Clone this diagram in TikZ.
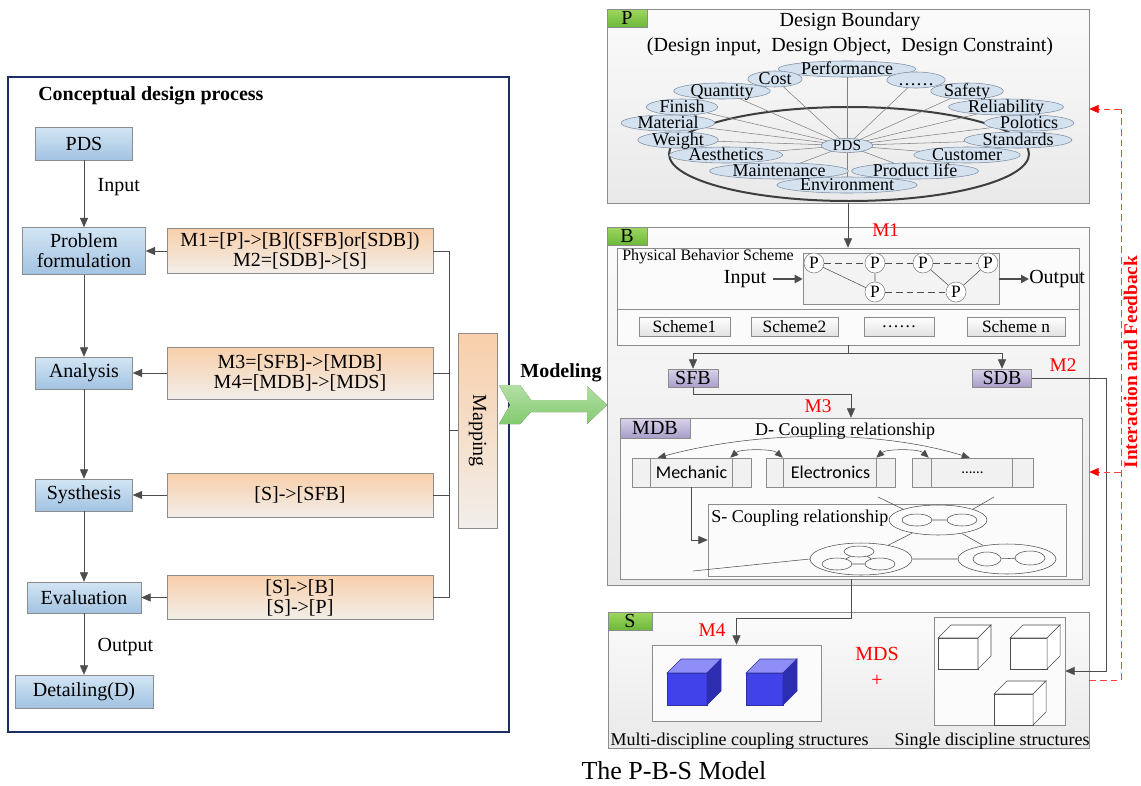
\documentclass[tikz,border=0pt]{standalone}
\usepackage{fontspec}
\setmainfont{Liberation Serif}
\newfontfamily\calfont{Carlito}
\usetikzlibrary{arrows.meta,positioning,calc,shapes.geometric}

\newcommand{\fsz}[1]{\fontsize{#1}{#1}\selectfont}

\definecolor{navy}{HTML}{1B2F66}
\definecolor{edgegray}{HTML}{8C8C8C}
\definecolor{linegray}{HTML}{4D4D4D}
\definecolor{blueTop}{HTML}{D3E5F4}
\definecolor{blueBot}{HTML}{A2C3E2}
\definecolor{peachTop}{HTML}{F8CFAA}
\definecolor{peachBot}{HTML}{F2EEEA}
\definecolor{greenTop}{HTML}{9ED75F}
\definecolor{greenBot}{HTML}{6DB83A}
\definecolor{lilacTop}{HTML}{DAD3EA}
\definecolor{lilacBot}{HTML}{A99EC9}
\definecolor{panelTop}{HTML}{FBFBFB}
\definecolor{panelBot}{HTML}{E9E9E9}
\definecolor{itemblue}{HTML}{D4E2EF}
\definecolor{itemedge}{HTML}{7D8DA3}
\definecolor{cubeFront}{HTML}{4242EA}
\definecolor{cubeTop}{HTML}{8E8EF6}
\definecolor{cubeSide}{HTML}{2D2DB2}
\definecolor{arrowTop}{HTML}{C4F5B4}
\definecolor{arrowBot}{HTML}{8FDE7A}

\pgfdeclarelayer{back}
\pgfdeclarelayer{mid}
\pgfsetlayers{back,mid,main}

\tikzset{
  procbox/.style={draw=edgegray, top color=blueTop, bottom color=blueBot, align=center, inner sep=0pt, font=\fsz{15}},
  mapbox/.style={draw=edgegray, top color=peachTop, bottom color=peachBot, align=center, inner sep=0pt, font=\fsz{15}},
  panel/.style={draw=edgegray, top color=panelTop, bottom color=panelBot, inner sep=0pt},
  tagbox/.style={draw=edgegray, top color=greenTop, bottom color=greenBot, anchor=north west, inner sep=0pt, minimum width=30pt, minimum height=13.5pt, font=\fsz{15}},
  lilac/.style={draw=edgegray, top color=lilacTop, bottom color=lilacBot, inner sep=0pt, font=\fsz{15}},
  item/.style={ellipse, draw=itemedge, fill=itemblue, inner xsep=2pt, inner ysep=0pt, text height=8.5pt, text depth=0pt, font=\fsz{13.5}},
  pnode/.style={circle, draw=gray, fill=white, inner sep=0pt, minimum size=15pt, font=\fsz{13}},
  schemebox/.style={draw=edgegray, top color=white, bottom color=panelTop!90!black, inner sep=0pt, minimum height=14.25pt, font=\fsz{13}},
  module/.style={draw=edgegray, fill=panelTop!96!black, inner sep=0pt, minimum height=21.75pt, font=\calfont\fsz{13.5}},
  ring/.style={ellipse, draw=linegray, inner sep=0pt},
  lbl/.style={inner sep=0pt, font=\fsz{15}},
  smalllbl/.style={inner sep=0pt, font=\fsz{13.5}},
  mlbl/.style={inner sep=0pt, text=red, font=\fsz{14.5}},
  arr/.style={draw=linegray, -{Triangle[length=7pt,width=6pt]}},
  dblarr/.style={draw=linegray, {Triangle[length=6pt,width=5pt]}-{Triangle[length=6pt,width=5pt]}},
  thickarr/.style={draw=linegray, line width=1.6pt, -{Triangle[length=6pt,width=6pt]}},
  feedback/.style={draw=red!75, dash pattern=on 5pt off 3pt},
  redarr/.style={feedback, -{Triangle[length=7pt,width=6pt,color=red]}}
}

% cube: front top-left x, y, width, height, depth, front / top / side options
\newcommand{\drawcube}[8]{%
  \filldraw[#6] (#1,#2) rectangle ++(#3,#4);
  \filldraw[#7] (#1,#2) -- ++(#5,-#5) -- ++(#3,0) -- ++(-#5,#5) -- cycle;
  \filldraw[#8] (#1,#2) ++(#3,0) -- ++(#5,-#5) -- ++(0,#4) -- ++(-#5,#5) -- cycle;
}

\begin{document}
\begin{tikzpicture}[x=0.75pt, y=-0.75pt, line width=0.6pt]
\useasboundingbox (0,0) rectangle (1141,785);
\begin{pgfonlayer}{back}
  \fill[white] (0,0) rectangle (1141,785);
\end{pgfonlayer}

% ---------- conceptual design process ----------
\draw[navy, line width=2.2pt] (8,77) rectangle (509,732);
\node[anchor=west, inner sep=0pt, font=\bfseries\fsz{15}] (title) at (38,96) {Conceptual design process};

\node[procbox, minimum width=72.75pt, minimum height=24.75pt] (pdsbox) at (84,143.5) {PDS};
\node[procbox, minimum width=92.25pt, minimum height=35.25pt] (prob) at (84,251) {Problem\\formulation};
\node[procbox, minimum width=72.75pt, minimum height=24pt] (anal) at (84,373) {Analysis};
\node[procbox, minimum width=72.75pt, minimum height=24pt] (syst) at (84,495) {Systhesis};
\node[procbox, minimum width=85.5pt, minimum height=23.25pt] (eval) at (84,597.5) {Evaluation};
\node[procbox, minimum width=103.5pt, minimum height=24.75pt] (detl) at (84,691.5) {Detailing(D)};

\node[mapbox, minimum width=199.5pt, minimum height=33.75pt] (m12) at (300,251) {M1=[P]->[B]([SFB]or[SDB])\\{}M2=[SDB]->[S]};
\node[mapbox, minimum width=199.5pt, minimum height=39pt] (m34) at (300,373) {M3=[SFB]->[MDB]\\{}M4=[MDB]->[MDS]};
\node[mapbox, minimum width=199.5pt, minimum height=33pt] (msfb) at (300,495) {[S]->[SFB]};
\node[mapbox, minimum width=199.5pt, minimum height=33pt] (msbp) at (300,597.5) {[S]->[B]\\{}[S]->[P]};
\node[mapbox, minimum width=29.25pt, minimum height=146.25pt] (mapping) at (477.5,430.5) {\rotatebox{-90}{Mapping}};

\draw[arr] (pdsbox) -- node[lbl, right=10pt, pos=0.4] {Input} (prob);
\draw[arr] (prob) -- (anal);
\draw[arr] (anal) -- (syst);
\draw[arr] (syst) -- (eval);
\draw[arr] (eval) -- node[lbl, right=10pt, pos=0.55] {Output} (detl);

\draw[arr] (m12) -- (prob);
\draw[arr] (m34) -- (anal);
\draw[arr] (msfb) -- (syst);
\draw[arr] (msbp) -- (eval);

\coordinate (busT) at (449,251);
\coordinate (busB) at (449,597.5);
\draw[linegray] (m12.east) -- (busT) -- (busB) -- (msbp.east);
\draw[linegray] (m34.east) -- (m34.east -| busT);
\draw[linegray] (msfb.east) -- (msfb.east -| busT);
\draw[linegray] (mapping.west) -- (mapping.west -| busT);

% modeling arrow
\fill[top color=arrowTop, bottom color=arrowBot, fill opacity=0.9]
  (499,385) -- (520,385) -- (531,400) -- (587,400) -- (587,386) -- (607,405)
  -- (587,424) -- (587,412) -- (531,412) -- (520,424) -- (499,424) -- (510,405) -- cycle;
\node[inner sep=0pt, font=\bfseries\fsz{15}] (modeling) at (561,373) {Modeling};

% ---------- P ----------
\begin{pgfonlayer}{back}
  \node[panel, minimum width=361.5pt, minimum height=145.5pt] (Ppanel) at (848,106) {};
  \node[panel, minimum width=361.5pt, minimum height=268.5pt] (Bpanel) at (848,406) {};
  \node[panel, minimum width=360.75pt, minimum height=102pt] (Spanel) at (848.5,680) {};
\end{pgfonlayer}
\node[tagbox] (ptag) at (Ppanel.north west) {P};
\node[lbl] (pttl) at (850,22) {Design Boundary};
\node[lbl] (psub) at (850,47) {(Design input,\ \ Design Object,\ \ Design Constraint)};

\node[item] (perf) at (847,69) {Performance};
\node[item] (cost) at (775,79) {Cost};
\node[item] (dots) at (916,80) {……};
\node[item] (quan) at (722,91) {Quantity};
\node[item] (safe) at (967,91) {Safety};
\node[item] (fini) at (682,107) {Finish};
\node[item] (reli) at (1006,107) {Reliability};
\node[item] (matl) at (668,123) {Material};
\node[item] (polo) at (1029,123) {Polotics};
\node[item] (wegt) at (678,140) {Weight};
\node[item] (stnd) at (1018,140) {Standards};
\node[item] (aest) at (726,155) {Aesthetics};
\node[item] (cust) at (967,155) {Customer};
\node[item] (mtce) at (779,171) {Maintenance};
\node[item] (plif) at (915,171) {Product life};
\node[item] (envi) at (847,185) {Environment};
\node[item, font=\fsz{11.5}, text height=7.5pt, inner xsep=3pt] (pds) at (847,145.5) {PDS};

\begin{pgfonlayer}{mid}
  \draw[linegray!80!black, line width=1.5pt] (849,154) ellipse [x radius=180, y radius=47];
  \foreach \it in {perf,cost,dots,quan,safe,fini,reli,matl,polo,wegt,stnd,aest,cust,mtce,plif,envi}
    \draw[gray, line width=0.4pt] (pds.center) -- (\it.center);
\end{pgfonlayer}

% ---------- B ----------
\node[tagbox] (btag) at (Bpanel.north west) {B};
\node[draw=edgegray, fill=panelTop, inner sep=0pt, minimum width=346.5pt, minimum height=72.75pt] (pbs) at (848,296.5) {};
\draw[edgegray] (pbs.west |- 0,309) -- (pbs.east |- 0,309);
\node[anchor=west, inner sep=0pt, font=\fsz{12}] (pbstitle) at (622,257) {Physical Behavior Scheme};
\node[draw=edgegray, fill=panelTop!97!black, inner sep=0pt, minimum width=147pt, minimum height=38.25pt] (pnet) at (901,278.5) {};
\node[lbl] (inp) at (745,279) {Input};
\node[lbl, anchor=west] (outp) at (1029,279) {Output};
\draw[thickarr] (773,279) -- (pnet.west |- inp);
\draw[thickarr] (pnet.east |- outp) -- (outp.west);

\node[pnode] (p1) at (814,263) {P};
\node[pnode] (p2) at (875,263) {P};
\node[pnode] (p3) at (923,263) {P};
\node[pnode] (p4) at (988,263) {P};
\node[pnode] (p5) at (875,292) {P};
\node[pnode] (p6) at (956,292) {P};
\draw[linegray, dash pattern=on 5pt off 3pt] (p1) -- (p2) (p2) -- (p3) (p3) -- (p4) (p5) -- (p6);
\draw[linegray, line width=0.4pt] (p2) -- (p5) (p1) -- (p5) (p3) -- (p6) (p6) -- (p4);

\node[schemebox, minimum width=68.25pt] (s1) at (684.5,326.5) {Scheme1};
\node[schemebox, minimum width=65.25pt] (s2) at (794.5,326.5) {Scheme2};
\node[schemebox, minimum width=52.5pt] (s3) at (899,326.5) {……};
\node[schemebox, minimum width=73.5pt] (sn) at (1016,326.5) {Scheme n};

\draw[arr] (Ppanel.south) -- node[mlbl, right=18pt, pos=0.6] {M1} (pbs.north);

\node[lilac, minimum width=37.5pt, minimum height=13.5pt] (sfb) at (693,378) {SFB};
\node[lilac, minimum width=44.25pt, minimum height=13.5pt] (sdb) at (1002,378) {SDB};
\draw[linegray] (pbs.south) -- ++(0,8) coordinate (split);
\draw[arr] (split) -| (sfb.north);
\draw[arr] (split) -| (sdb.north);
\node[mlbl] (m2) at (1063,365) {M2};

\node[draw=edgegray, fill=panelTop, inner sep=0pt, minimum width=346.5pt, minimum height=120.75pt] (mdb) at (851,498.5) {};
\node[lilac, anchor=north west, minimum width=52.5pt, minimum height=15pt] (mdbtag) at (mdb.north west) {MDB};
\draw[arr] (sfb.south) -- ++(0,7) -| (mdb.north);
\node[mlbl] (m3) at (818,406) {M3};
\node[smalllbl] (dcoup) at (845,431) {D- Coupling relationship};

\node[module, minimum width=89.25pt] (mech) at (691.5,472.5) {Mechanic};
\node[module, minimum width=96.75pt] (elec) at (830.5,472.5) {Electronics};
\node[module, minimum width=90.75pt] (more) at (972.5,472.5) {\fsz{11}......};
\foreach \m/\l/\r in {mech/19/19, elec/18/19, more/20/21} {
  \draw[edgegray] ($(\m.north west)+(\l,0)$) -- ($(\m.south west)+(\l,0)$);
  \draw[edgegray] ($(\m.north east)+(-\r,0)$) -- ($(\m.south east)+(-\r,0)$);
}
\draw[dblarr] ($(mech.north west)+(26,0)$) .. controls (760,430) and (880,430) .. ($(more.north west)+(58,0)$);
\draw[dblarr] ($(mech.north east)+(-21,0)$) .. controls +(10,-9) and +(-10,-9) .. ($(elec.north west)+(17,0)$);
\draw[dblarr] ($(elec.north east)+(-19,0)$) .. controls +(10,-9) and +(-10,-9) .. ($(more.north west)+(17,0)$);

\node[draw=edgegray, fill=panelTop, inner sep=0pt, minimum width=268.5pt, minimum height=54pt] (sbox) at (887,540) {};
\node[smalllbl, anchor=west] (scoup) at (711,518) {S- Coupling relationship};
\draw[arr] (mech.south) |- (sbox.west);

\node[ring, minimum width=73.5pt, minimum height=22.5pt] (eA) at (938,520) {};
\node[ring, minimum width=22.5pt, minimum height=9pt] (a1) at (917,520) {};
\node[ring, minimum width=22.5pt, minimum height=9pt] (a2) at (962,520) {};
\node[ring, minimum width=76.5pt, minimum height=24pt] (eB) at (861,559) {};
\node[ring, minimum width=22.5pt, minimum height=8.25pt] (b1) at (859,551.5) {};
\node[ring, minimum width=22.5pt, minimum height=9pt] (b2) at (837,564) {};
\node[ring, minimum width=22.5pt, minimum height=9pt] (b3) at (880,564) {};
\node[ring, minimum width=73.5pt, minimum height=22.5pt] (eC) at (1007,559) {};
\node[ring, minimum width=21pt, minimum height=10.5pt] (c1) at (987,559) {};
\node[ring, minimum width=22.5pt, minimum height=10.5pt] (c2) at (1030,558) {};
\coordinate (tl) at (878,497);
\coordinate (tr) at (994,497);
\coordinate (bl) at (693,571);
\draw[linegray, line width=0.4pt] (a1) -- (a2) (b1) -- (b2) (b1) -- (b3) (b2) -- (b3) (c1) -- (c2)
  (eA) -- (eB) (eA) -- (eC) (eB.east) -- (eC.west) (eB.west) -- (bl)
  (tl) -- (eA.north west) (tr) -- (eA.north east);

% ---------- S ----------
\node[tagbox, minimum width=33pt] (stag) at (Spanel.north west) {S};
\node[draw=edgegray, fill=panelTop, inner sep=0pt, minimum width=126.75pt, minimum height=57pt] (multi) at (736.5,683) {};
\node[draw=edgegray, fill=panelTop, inner sep=0pt, minimum width=98.25pt, minimum height=81pt] (single) at (999.5,671) {};
\draw[arr] (mdb.south) -- ++(0,39) -| (multi.north);
\node[mlbl] (m4) at (712,630) {M4};

\drawcube{667}{673}{40}{32}{14}{fill=cubeFront, draw=cubeFront!70!black}{fill=cubeTop, draw=cubeFront!70!black}{fill=cubeSide, draw=cubeFront!70!black}
\drawcube{746}{673}{37}{32}{14}{fill=cubeFront, draw=cubeFront!70!black}{fill=cubeTop, draw=cubeFront!70!black}{fill=cubeSide, draw=cubeFront!70!black}
\drawcube{938}{638}{40}{31}{13}{fill=white, draw=linegray}{fill=white, draw=linegray}{fill=white, draw=linegray}
\drawcube{1010}{638}{37}{31}{13}{fill=white, draw=linegray}{fill=white, draw=linegray}{fill=white, draw=linegray}
\drawcube{994}{694}{39}{31}{13}{fill=white, draw=linegray}{fill=white, draw=linegray}{fill=white, draw=linegray}

\node[mlbl, font=\fsz{15}] (mds) at (877,654) {MDS};
\node[mlbl, font=\fsz{15}] (plus) at (877,681) {+};
\node[smalllbl] (mlabel) at (739.5,741) {Multi-discipline coupling structures};
\node[smalllbl] (slabel) at (992,741) {Single discipline structures};

\coordinate (sdbR) at (1106,378);
\draw[arr] (sdb.east) -- (sdbR) |- (single.east);

% interaction and feedback
\coordinate (fbB) at (1121,680);
\coordinate (fbM) at (1121,472);
\coordinate (fbT) at (1121,109);
\draw[feedback] (Spanel.east) -- (fbB) -- (fbT);
\draw[redarr] (fbT) -- (Ppanel.east |- fbT);
\draw[redarr] (fbM) -- (Bpanel.east |- fbM);
\node[rotate=90, inner sep=0pt, text=red, font=\bfseries\fsz{14.5}] (fbtext) at (1130.5,362) {Interaction and Feedback};

\node[inner sep=0pt, font=\fsz{19.5}] (caption) at (674,771) {The P-B-S Model};
\end{tikzpicture}
\end{document}
